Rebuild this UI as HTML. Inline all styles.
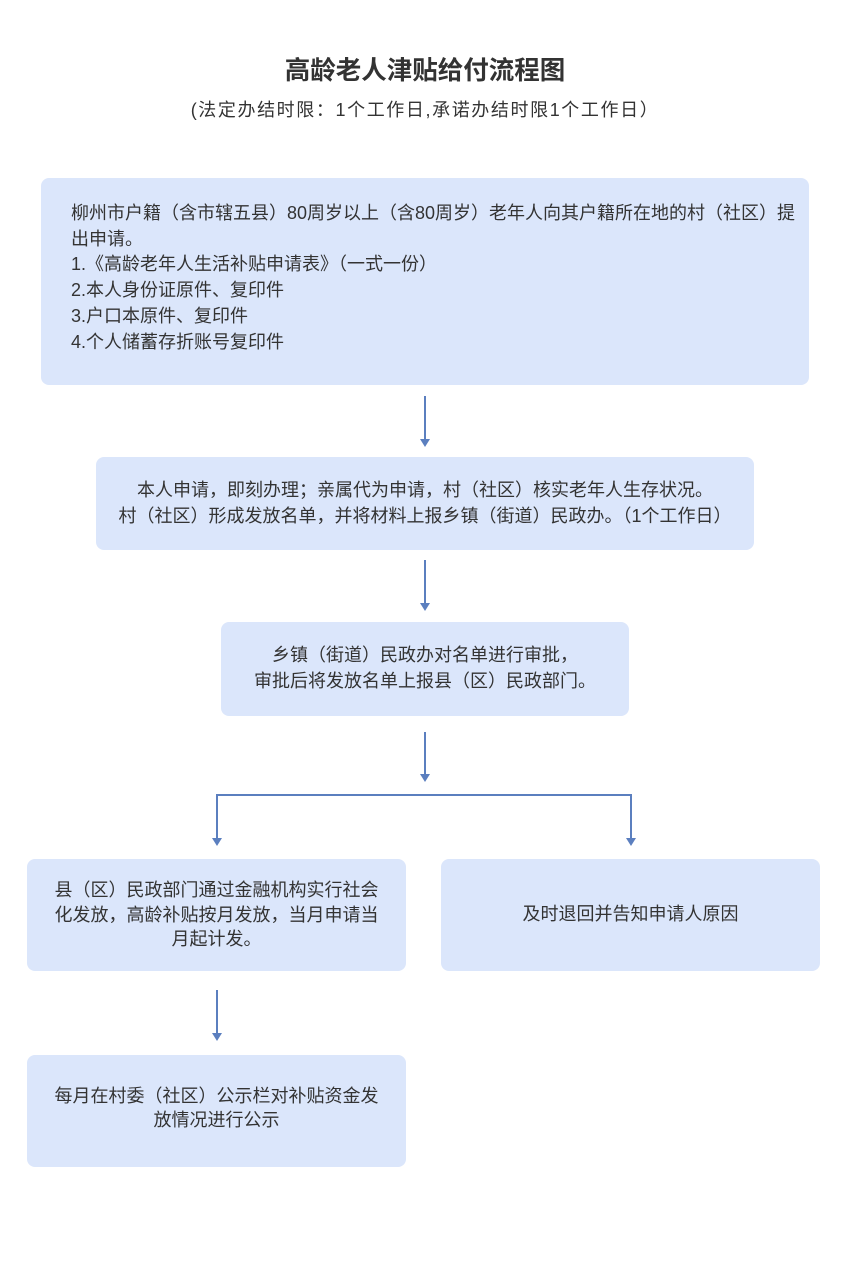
<!DOCTYPE html>
<html><head><meta charset="utf-8"><style>
body{margin:0;width:850px;height:1270px;background:#fff;position:relative;font-family:"Liberation Sans","Noto Sans CJK SC",sans-serif;color:#333;overflow:hidden}
.t{position:absolute;left:0;width:850px;text-align:center}
.b{position:absolute;background:#dbe6fb;border-radius:8px;font-size:18px;line-height:25.7px;box-sizing:border-box}
.c{display:flex;align-items:center;justify-content:center;text-align:center}
svg{position:absolute;left:0;top:0}
</style></head><body>
<div class="t" style="top:50px;font-size:25.5px;font-weight:bold;color:#333">高龄老人津贴给付流程图</div>
<div class="t" style="top:96px;font-size:18px;letter-spacing:1.6px">(法定办结时限：1个工作日,承诺办结时限1个工作日）</div>

<div class="b" style="left:41px;top:178px;width:768px;height:207px;padding:23px 0 0 30px">柳州市户籍（含市辖五县）80周岁以上（含80周岁）老年人向其户籍所在地的村（社区）提<br>出申请。<br>1.《高龄老年人生活补贴申请表》（一式一份）<br>2.本人身份证原件、复印件<br>3.户口本原件、复印件<br>4.个人储蓄存折账号复印件</div>

<div class="b c" style="left:96px;top:457px;width:658px;height:93px">本人申请，即刻办理；亲属代为申请，村（社区）核实老年人生存状况。<br>村（社区）形成发放名单，并将材料上报乡镇（街道）民政办。（1个工作日）</div>

<div class="b c" style="left:221px;top:622px;width:408px;height:94px">乡镇（街道）民政办对名单进行审批，<br>审批后将发放名单上报县（区）民政部门。</div>

<div class="b c" style="left:27px;top:859px;width:379px;height:112px;line-height:24.5px">县（区）民政部门通过金融机构实行社会<br>化发放，高龄补贴按月发放，当月申请当<br>月起计发。</div>

<div class="b c" style="left:441px;top:859px;width:379px;height:112px">及时退回并告知申请人原因</div>

<div class="b c" style="left:27px;top:1055px;width:379px;height:112px;line-height:24.5px;padding-bottom:6px">每月在村委（社区）公示栏对补贴资金发<br>放情况进行公示</div>

<svg width="850" height="1270" stroke="#5b7fbf" stroke-width="2" fill="none">
<line x1="425" y1="396" x2="425" y2="440"/>
<line x1="425" y1="560" x2="425" y2="604"/>
<line x1="425" y1="732" x2="425" y2="775"/>
<polyline points="217,839 217,795 631,795 631,839"/>
<line x1="217" y1="990" x2="217" y2="1034"/>
<g fill="#5b7fbf" stroke="none">
<polygon points="420,439 430,439 425,447"/>
<polygon points="420,603 430,603 425,611"/>
<polygon points="420,774 430,774 425,782"/>
<polygon points="212,838 222,838 217,846"/>
<polygon points="626,838 636,838 631,846"/>
<polygon points="212,1033 222,1033 217,1041"/>
</g>
</svg>
</body></html>
